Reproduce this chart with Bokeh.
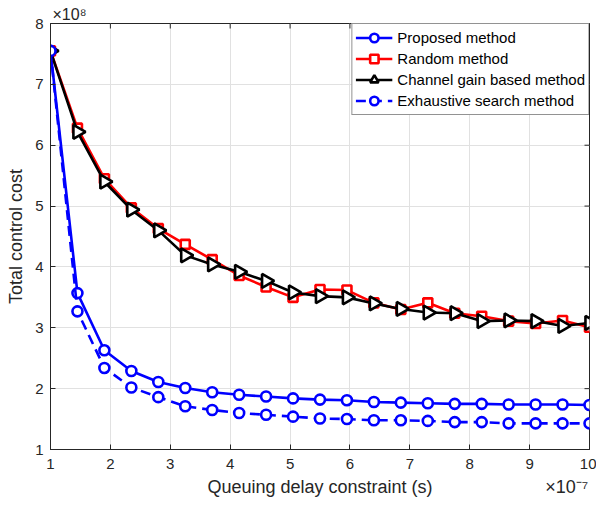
import numpy as np
from bokeh.plotting import figure
from bokeh.models import Range1d, FixedTicker, Legend, LegendItem, LinearAxis
from bokeh.embed import file_html
from bokeh.resources import INLINE

# Queuing delay constraint, in units of 1e-7 s
delay = [1.00, 1.45, 1.90, 2.35, 2.80, 3.25, 3.70, 4.15, 4.60, 5.05, 5.50,
         5.95, 6.40, 6.85, 7.30, 7.75, 8.20, 8.65, 9.10, 9.55, 10.00]
# Total control cost, in units of 1e8
proposed = [7.55, 3.57, 2.63, 2.29, 2.11, 2.01, 1.94, 1.90, 1.87, 1.84, 1.82,
            1.81, 1.78, 1.77, 1.76, 1.75, 1.75, 1.74, 1.74, 1.74, 1.73]
random_m = [7.55, 6.28, 5.45, 4.97, 4.63, 4.37, 4.12, 3.86, 3.67, 3.50, 3.63,
            3.62, 3.41, 3.30, 3.41, 3.24, 3.19, 3.11, 3.07, 3.12, 3.01]
channel = [7.55, 6.22, 5.40, 4.94, 4.60, 4.19, 4.04, 3.92, 3.77, 3.58, 3.52,
           3.50, 3.40, 3.31, 3.25, 3.24, 3.11, 3.12, 3.11, 3.03, 3.08]
exhaustive = [7.55, 3.27, 2.34, 2.02, 1.86, 1.71, 1.65, 1.60, 1.57, 1.54, 1.51,
              1.50, 1.48, 1.48, 1.47, 1.45, 1.45, 1.43, 1.43, 1.43, 1.43]

x_ticks = [1, 2, 3, 4, 5, 6, 7, 8, 9, 10]
y_ticks = [1, 2, 3, 4, 5, 6, 7, 8]
labels = ["Proposed method", "Random method", "Channel gain based method",
          "Exhaustive search method"]
x_title = "Queuing delay constraint (s)"
y_title = "Total control cost"
y_multiplier = "×10⁸"
x_multiplier = "×10⁻⁷"

FONT = "Liberation Sans"
AX = "#262626"
X0, X1 = x_ticks[0], x_ticks[-1]
Y0, Y1 = y_ticks[0], y_ticks[-1]

p = figure(width=596, height=506, output_backend="svg", toolbar_location=None,
           x_range=Range1d(X0, X1), y_range=Range1d(Y0, Y1),
           min_border_left=50, min_border_right=7, min_border_top=23, min_border_bottom=57)
p.background_fill_color = "white"
p.border_fill_color = "white"
p.outline_line_color = AX
p.outline_line_width = 1

# y multiplier shown as the (left aligned) title above the box
p.title.text = y_multiplier
p.title.align = "left"
p.title.offset = 2
p.title.standoff = 2
p.title.text_font = FONT
p.title.text_font_size = "16px"
p.title.text_font_style = "normal"
p.title.text_color = AX

xt = FixedTicker(ticks=x_ticks)
yt = FixedTicker(ticks=y_ticks)
p.xaxis.ticker = xt
p.yaxis.ticker = yt
for ax in (p.xaxis, p.yaxis):
    ax.axis_line_color = AX
    ax.major_tick_line_color = AX
    ax.major_tick_in = 5
    ax.major_tick_out = 0
    ax.minor_tick_line_color = None
    ax.major_label_text_font = FONT
    ax.major_label_text_font_size = "15px"
    ax.major_label_text_color = AX
    ax.axis_label_text_font = FONT
    ax.axis_label_text_font_size = "18px"
    ax.axis_label_text_font_style = "normal"
    ax.axis_label_text_color = AX
p.yaxis.axis_label = y_title
p.xaxis.major_label_standoff = 9
p.yaxis.major_label_standoff = 7
p.yaxis.axis_label_standoff = 6

# second row below the x axis: axis title (centred) and the x multiplier (right)
centre = (X0 + X1) / 2
mult_pos = X1 - 0.38
title_axis = LinearAxis(ticker=FixedTicker(ticks=[centre, mult_pos]),
                        major_label_overrides={centre: x_title, mult_pos: x_multiplier},
                        axis_line_color=None, major_tick_line_color=None,
                        minor_tick_line_color=None, major_tick_in=0, major_tick_out=0,
                        major_label_standoff=5, major_label_text_font=FONT,
                        major_label_text_font_size="18px", major_label_text_color=AX)
p.add_layout(title_axis, "below")

p.xgrid.ticker = xt
p.ygrid.ticker = yt
p.grid.grid_line_color = "#e1e1e1"
p.grid.grid_line_width = 1

# inward tick marks on the top and right edges of the box
p.scatter(x_ticks, [Y1] * len(x_ticks), marker="dash", size=10, angle=np.pi / 2,
          line_color=AX, line_width=1)
p.scatter([X1] * len(y_ticks), y_ticks, marker="dash", size=10,
          line_color=AX, line_width=1)

BLUE = "#0000ff"
RED = "#ff0000"
LW = 2.6

l1 = p.line(delay, proposed, line_color=BLUE, line_width=LW)
s1 = p.scatter(delay, proposed, marker="circle", size=10, line_color=BLUE,
               line_width=LW, fill_color="white")
l2 = p.line(delay, random_m, line_color=RED, line_width=LW)
s2 = p.scatter(delay, random_m, marker="square", size=9, line_color=RED,
               line_width=LW, fill_color="white")
l3 = p.line(delay, channel, line_color="black", line_width=LW)
s3 = p.scatter(delay, channel, marker="triangle", size=14, angle=-np.pi / 2,
               line_color="black", line_width=LW, fill_color="white")
l4 = p.line(delay, exhaustive, line_color=BLUE, line_width=LW, line_dash="10 6")
s4 = p.scatter(delay, exhaustive, marker="circle", size=10, line_color=BLUE,
               line_width=LW, fill_color="white")

legend = Legend(items=[LegendItem(label=labels[0], renderers=[l1, s1]),
                       LegendItem(label=labels[1], renderers=[l2, s2]),
                       LegendItem(label=labels[2], renderers=[l3, s3]),
                       LegendItem(label=labels[3], renderers=[l4, s4])],
                location="top_right")
legend.margin = 0
legend.padding = 3
legend.spacing = 0
legend.label_height = 21
legend.glyph_height = 21
legend.glyph_width = 37
legend.label_standoff = 5
legend.label_text_font = FONT
legend.label_text_font_size = "15px"
legend.label_text_color = "black"
legend.border_line_color = AX
legend.border_line_width = 1
legend.background_fill_color = "white"
legend.background_fill_alpha = 1
p.add_layout(legend)

open("out.html", "w").write(file_html(p, INLINE))
